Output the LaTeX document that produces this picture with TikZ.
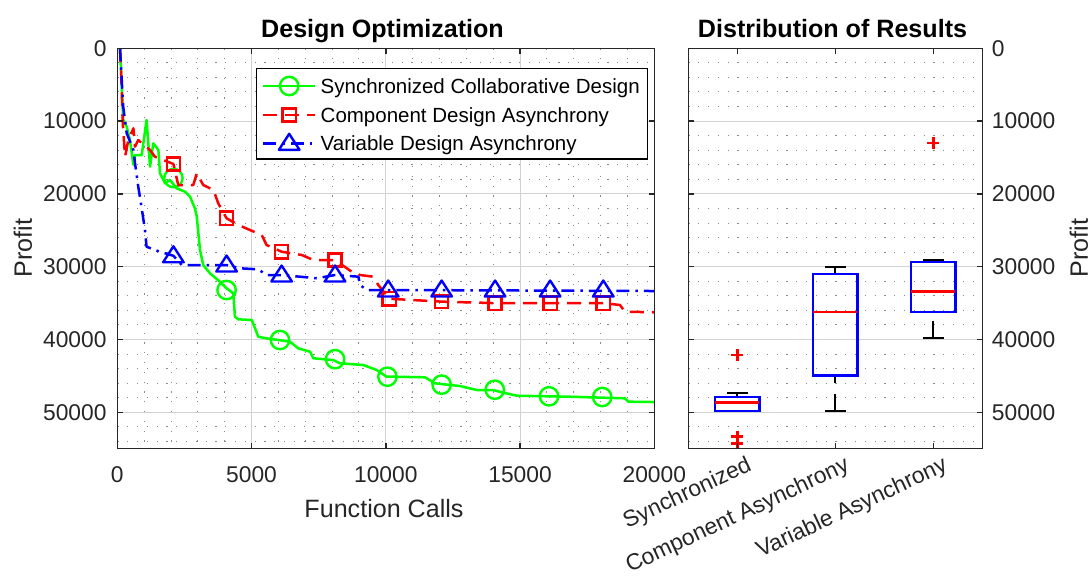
\documentclass[tikz,border=0pt]{standalone}
\usepackage{fontspec}
\setmainfont{Liberation Sans}
\definecolor{axgray}{HTML}{262626}
\definecolor{gridmaj}{HTML}{D2D2D2}
\definecolor{gridmin}{HTML}{8A8A8A}
\definecolor{mgreen}{HTML}{00FF00}
\definecolor{mred}{HTML}{FF0000}
\definecolor{mblue}{HTML}{0000FF}
\tikzset{
  axisframe/.style={draw=axgray, line width=1.4pt},
  majgrid/.style={draw=gridmaj, line width=1.1pt},
  mingrid/.style={draw=gridmin, line width=1pt, dash pattern=on 1.2pt off 8.6pt},
  tickfont/.style={font=\fontsize{22.8}{27}\selectfont, text=axgray, inner sep=0pt},
  labelfont/.style={font=\fontsize{25.1}{29}\selectfont, text=axgray, inner sep=0pt},
  titlefont/.style={font=\fontsize{25.1}{29}\selectfont\bfseries, text=black, inner sep=0pt},
  legfont/.style={font=\fontsize{20.5}{24}\selectfont, text=black, inner sep=0pt},
  synccurve/.style={draw=mgreen, line width=2.5pt, line join=round},
  compcurve/.style={draw=mred, line width=2.5pt, line join=round, dash pattern=on 14pt off 8pt},
  varcurve/.style={draw=mblue, line width=2.5pt, line join=round, dash pattern=on 13pt off 6pt on 2.5pt off 6pt},
  boxline/.style={draw=mblue, line width=2.4pt},
  medline/.style={draw=mred, line width=2.4pt},
  whisk/.style={draw=black, line width=2pt, dash pattern=on 17pt off 10.7pt},
  capline/.style={draw=black, line width=2pt},
  catlabel/.style={tickfont, rotate=25, anchor=east, xshift=5pt, yshift=-20pt},
  pics/ocirc/.style={code={\draw[mgreen, line width=2.4pt] (0,0) circle (9.2pt);}},
  pics/osquare/.style={code={\draw[mred, line width=2.4pt] (-6.6pt,-6.6pt) rectangle (6.6pt,6.6pt);}},
  pics/otri/.style={code={\draw[mblue, line width=2.4pt, line join=round] (0,9.5pt) -- (-10.3pt,-6.5pt) -- (10.3pt,-6.5pt) -- cycle;}},
  pics/oplus/.style={code={\draw[mred, line width=2.4pt] (-6pt,0) -- (6pt,0) (0,-6pt) -- (0,6pt);}},
}
\begin{document}
\begin{tikzpicture}[x=1pt, y=-1pt]
\useasboundingbox[fill=white] (0,0) rectangle (1092,581);

% ---------------- Design Optimization (function calls / 1000, profit / 1000)
\begin{scope}[shift={(117.3,48.3)}, x=26.85pt, y=-7.28pt]
  \foreach \gx in {1,2,3,4,6,7,8,9,11,12,13,14,16,17,18,19}
    \draw[mingrid] (\gx,0) -- (\gx,55);
  \foreach \gy in {2,4,6,8,12,14,16,18,22,24,26,28,32,34,36,38,42,44,46,48,52,54}
    \draw[mingrid] (0,\gy) -- (20,\gy);
  \foreach \gx in {5,10,15} \draw[majgrid] (\gx,0) -- (\gx,55);
  \foreach \gy in {10,20,30,40,50} \draw[majgrid] (0,\gy) -- (20,\gy);

  % synchronized collaborative design
  \draw[synccurve] (0.1,0) -- (0.15,4) -- (0.22,9.8) -- (0.35,10.77) -- (0.47,12.6) -- (0.6,16.0)
    -- (0.66,14.66) -- (0.91,14.66) -- (1.09,9.85) -- (1.22,16.26) -- (1.34,13.05) -- (1.53,13.97)
    -- (1.59,17.17) -- (1.78,18.54) -- (1.96,18.09) -- (2.21,19.23) -- (2.52,19.7) -- (2.71,20.38)
    -- (2.89,21.98) -- (2.96,23.13) -- (3.08,27.7) -- (3.2,29.77) -- (3.45,30.9) -- (3.82,32.06)
    -- (4.07,32.97) -- (4.32,33.65) -- (4.38,36.87) -- (4.51,37.23) -- (5.01,37.32) -- (5.25,39.62)
    -- (5.56,39.84) -- (6.43,40.3) -- (6.74,41.21) -- (7.18,41.68) -- (7.3,42.58) -- (8.04,42.82)
    -- (8.29,43.27) -- (9.16,43.5) -- (9.66,44.19) -- (10.03,45.11) -- (10.28,45.11) -- (11.46,45.19)
    -- (11.83,46.02) -- (12.76,46.39) -- (13.39,46.94) -- (14.0,46.94) -- (14.38,47.31) -- (14.88,47.72)
    -- (16.86,47.86) -- (18.91,48.08) -- (19.03,48.54) -- (20,48.59);
  \foreach \mx/\my in {2.09/17.82, 4.07/33.2, 6.06/40.07, 8.11/42.7, 10.06/45.11,
                       12.08/46.2, 14.06/46.9, 16.08/47.8, 18.06/47.9}
    \pic at (\mx,\my) {ocirc};

  % component design asynchrony
  \draw[compcurve] (0.1,0) -- (0.15,4) -- (0.2,10) -- (0.22,11.22) -- (0.29,14.89) -- (0.41,12.6)
    -- (0.6,10.99) -- (0.66,13.52) -- (0.78,12.6) -- (1.22,13.97) -- (1.4,14.89) -- (2.09,15.89)
    -- (2.27,18.78) -- (2.83,18.78) -- (2.96,17.17) -- (3.2,18.78) -- (3.58,19.46) -- (3.76,21.29)
    -- (4.07,23.35) -- (4.51,24.27) -- (4.94,24.96) -- (5.38,25.65) -- (5.56,27.02) -- (6.12,27.94)
    -- (6.87,28.39) -- (7.3,29.08) -- (8.11,29.08) -- (8.73,30.69) -- (9.04,31.14) -- (9.53,31.37)
    -- (9.72,32.51) -- (10.13,34.4) -- (12.08,34.8) -- (14.07,35.0) -- (16.12,35.0) -- (18.1,35.0)
    -- (18.72,35.26) -- (18.91,36.18) -- (20,36.26);
  \foreach \mx/\my in {2.09/15.89, 4.07/23.35, 6.12/27.94, 8.11/29.08, 10.13/34.4,
                       12.08/34.8, 14.07/35.0, 16.12/35.0, 18.1/35.0}
    \pic at (\mx,\my) {osquare};

  % variable design asynchrony
  \draw[varcurve] (0.1,0) -- (0.22,8.02) -- (0.35,11.66) -- (0.6,13.97) -- (0.66,15.8) -- (0.78,19.0)
    -- (0.91,21.97) -- (1.03,24.96) -- (1.09,27.25) -- (1.34,27.62) -- (1.59,27.94) -- (2.09,28.5)
    -- (2.4,29.77) -- (3.14,29.77) -- (4.07,29.77) -- (4.57,30.22) -- (5.25,30.36) -- (5.56,31.14)
    -- (6.12,31.14) -- (7.43,31.59) -- (8.11,31.14) -- (8.98,31.37) -- (9.04,32.51) -- (9.29,33.2)
    -- (10.09,33.2) -- (20,33.34);
  \foreach \mx/\my in {2.09/28.5, 4.07/29.77, 6.12/31.14, 8.11/31.14, 10.09/33.2,
                       12.08/33.2, 14.07/33.2, 16.12/33.2, 18.1/33.2}
    \pic at (\mx,\my) {otri};

  % axes box and ticks
  \draw[axisframe] (0,0) rectangle (20,55);
  \foreach \v in {0,10,...,50} {
    \draw[axisframe] (0,\v) -- ++(5.5pt,0);
    \draw[axisframe] (20,\v) -- ++(-5.5pt,0);
  }
  \foreach \x in {0,5,...,20} {
    \draw[axisframe] (\x,0) -- ++(0,-5.5pt);
    \draw[axisframe] (\x,55) -- ++(0,5.5pt);
  }
  \foreach \v/\lab in {0/0,10/10000,20/20000,30/30000,40/40000,50/50000}
    \node[tickfont, anchor=east, xshift=-10.6pt] (yl\v) at (0,\v) {\lab};
  \foreach \x/\lab in {0/0,5/5000,10/10000,15/15000,20/20000}
    \node[tickfont, yshift=-25.7pt] (xl\x) at (\x,55) {\lab};
\end{scope}

% legend
\draw[line width=1.1pt, fill=white] (256.7,68.3) rectangle (647.7,159);
\draw[synccurve] (263.3,86) -- (315,86);
\pic at (289.2,86) {ocirc};
\node[legfont, anchor=base west] (leg1) at (320.5,93.5) {Synchronized Collaborative Design};
\draw[compcurve] (263.3,115) -- (315,115);
\pic at (289.2,115) {osquare};
\node[legfont, anchor=base west] (leg2) at (320.5,122.5) {Component Design Asynchrony};
\draw[varcurve] (263.3,143.3) -- (315,143.3);
\pic at (289.2,143.3) {otri};
\node[legfont, anchor=base west] (leg3) at (320.5,150.8) {Variable Design Asynchrony};

% ---------------- Distribution of Results (group index, profit / 1000)
\begin{scope}[shift={(639.3,48.3)}, x=98pt, y=-7.28pt]
  \foreach \gy in {2,4,6,8,12,14,16,18,22,24,26,28,32,34,36,38,42,44,46,48,52,54}
    \draw[mingrid] (0.5,\gy) -- (3.5,\gy);
  \foreach \gy in {10,20,30,40,50} \draw[majgrid] (0.5,\gy) -- (3.5,\gy);

  % whiskers drawn from the cap towards the box
  \draw[whisk] (1,47.31) -- (1,47.86);
  \draw[whisk] (2,30.0) -- (2,31.04);
  \draw[whisk] (2,49.82) -- (2,44.97);
  \draw[whisk] (3,29.08) -- (3,29.35);
  \draw[whisk] (3,39.84) -- (3,36.26);
  \foreach \p/\c in {1/47.31, 2/30.0, 2/49.82, 3/29.08, 3/39.84}
    \draw[capline] (\p-0.107,\c) -- (\p+0.107,\c);

  % boxes and medians
  \draw[boxline] (0.774,47.86) rectangle (1.226,49.78);
  \draw[boxline] (1.774,31.04) rectangle (2.226,44.97);
  \draw[boxline] (2.774,29.35) rectangle (3.226,36.26);
  \draw[medline] (0.774,48.68) -- (1.226,48.68);
  \draw[medline] (1.774,36.26) -- (2.226,36.26);
  \draw[medline] (2.774,33.43) -- (3.226,33.43);

  % outliers
  \foreach \p/\o in {1/42.13, 1/53.35, 1/54.26, 3/12.97}
    \pic at (\p,\o) {oplus};

  % axes box and ticks
  \draw[axisframe] (0.5,0) rectangle (3.5,55);
  \foreach \v in {0,10,...,50} {
    \draw[axisframe] (0.5,\v) -- ++(5.5pt,0);
    \draw[axisframe] (3.5,\v) -- ++(-5.5pt,0);
  }
  \foreach \p in {1,2,3} {
    \draw[axisframe] (\p,0) -- ++(0,-5.5pt);
    \draw[axisframe] (\p,55) -- ++(0,5.5pt);
  }
  \foreach \v/\lab in {0/0,10/10000,20/20000,30/30000,40/40000,50/50000}
    \node[tickfont, anchor=west, xshift=9.4pt] (yr\v) at (3.5,\v) {\lab};
  \node[catlabel] (cat1) at (1,55) {Synchronized};
  \node[catlabel] (cat2) at (2,55) {Component Asynchrony};
  \node[catlabel] (cat3) at (3,55) {Variable Asynchrony};
\end{scope}

% titles and axis labels
\node[titlefont, anchor=base] (t1) at (382.5,37) {Design Optimization};
\node[titlefont, anchor=base] (t2) at (832.5,37) {Distribution of Results};
\node[labelfont] (xlab) at (384,508.5) {Function Calls};
\node[labelfont, rotate=90] (ylab1) at (23,248) {Profit};
\node[labelfont, rotate=90] (ylab2) at (1079,248) {Profit};
\end{tikzpicture}
\end{document}
